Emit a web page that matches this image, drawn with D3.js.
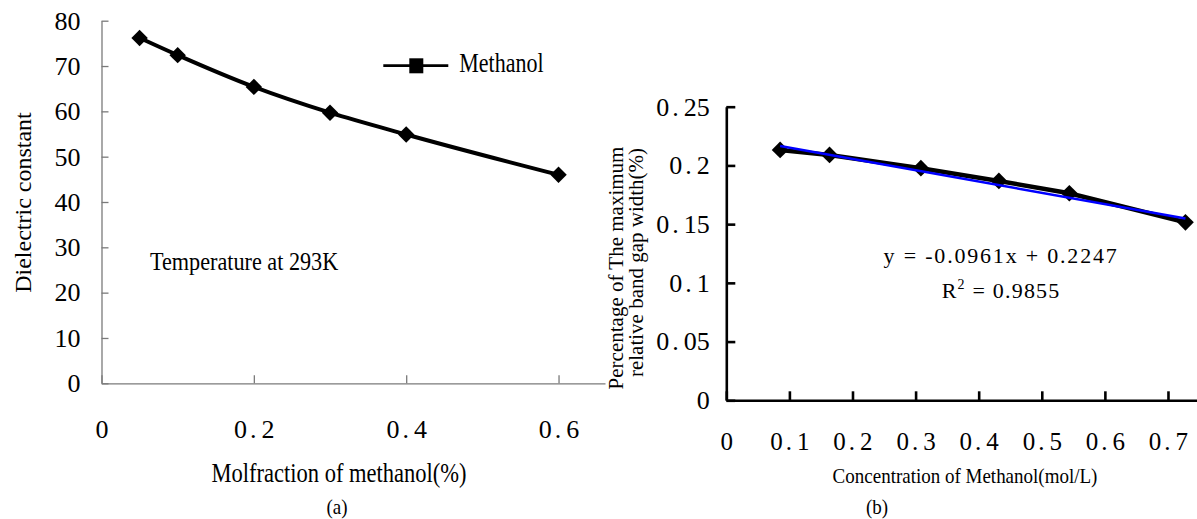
<!DOCTYPE html>
<html>
<head>
<meta charset="utf-8">
<script src="https://cdn.jsdelivr.net/npm/d3@7"></script>
<style>
  body { margin: 0; background: #fff; }
  svg text { font-family: "Liberation Serif", "Times New Roman", serif; fill: #000; }
</style>
</head>
<body>
<div id="chart"></div>
<script>
// (a) dielectric constant vs molfraction of methanol
var molFraction = [0.05, 0.1, 0.2, 0.3, 0.4, 0.6];
var dielectric = [76.2, 72.4, 65.4, 59.7, 54.9, 46.0];
var aXTicks = [0, 0.2, 0.4, 0.6];
var aYTicks = [0, 10, 20, 30, 40, 50, 60, 70, 80];

// (b) relative band gap width vs concentration
var concentration = [0.0853, 0.1636, 0.3084, 0.432, 0.5437, 0.7277];
var gapWidth = [0.2132, 0.2089, 0.1976, 0.1868, 0.1763, 0.1516];
var fitSlope = -0.0961, fitIntercept = 0.2247, fitR2 = 0.9855;
var bXTicks = [0, 0.1, 0.2, 0.3, 0.4, 0.5, 0.6, 0.7];
var bYTicks = [0, 0.05, 0.1, 0.15, 0.2, 0.25];

var width = 1197, height = 519;
var svg = d3.select('#chart').append('svg')
  .attr('width', width)
  .attr('height', height);

// text helper, the source picture is a bit stretched vertically
function addText(g, str, x, y, size, opts) {
  opts = opts || {};
  var tf = 'translate(' + x + ',' + y + ')';
  if (opts.rotate) tf += ' rotate(' + opts.rotate + ')';
  tf += ' scale(' + (opts.sx || 1) + ',' + (opts.sy || 1) + ')';
  var t = g.append('text')
    .attr('transform', tf)
    .attr('font-size', size)
    .attr('text-anchor', opts.anchor || 'start')
    .text(str);
  if (opts.ls) t.attr('letter-spacing', opts.ls);
  return t;
}

// tick labels written like "0. 2"
function spacedDecimal(sel) {
  sel.each(function(d) {
    var s = String(+d.toFixed(2));
    var t = d3.select(this).text(null);
    if (s.indexOf('.') < 0) { t.text(s); return; }
    var parts = s.split('.');
    t.append('tspan').text(parts[0]);
    t.append('tspan').attr('dx', 3).text('.');
    t.append('tspan').attr('dx', 5).text(parts[1]);
  });
}

function diamond(g, pts, x, y, size) {
  g.selectAll('path.mark')
    .data(pts)
    .enter()
    .append('path')
    .attr('class', 'mark')
    .attr('d', d3.symbol(d3.symbolSquare, size))
    .attr('transform', d => 'translate(' + x(d.x) + ',' + y(d.y) + ') rotate(45)')
    .attr('fill', '#000');
}

/* ---------- (a) ---------- */
var ga = svg.append('g');
var xa = d3.scaleLinear().domain([0, 0.661]).range([101.5, 605]);
var ya = d3.scaleLinear().domain([0, 80]).range([383.3, 20.7]);

var axA = ga.append('g')
  .attr('transform', 'translate(0,' + ya(0) + ')')
  .call(d3.axisBottom(xa).tickValues(aXTicks).tickSizeInner(-8).tickSizeOuter(0).tickPadding(36));
axA.selectAll('text').attr('font-size', 26).call(spacedDecimal);

var ayA = ga.append('g')
  .attr('transform', 'translate(' + xa(0) + ',0)')
  .call(d3.axisLeft(ya).tickValues(aYTicks).tickSizeInner(-7).tickSizeOuter(0).tickPadding(21));
ayA.selectAll('text').attr('font-size', 26);

ga.selectAll('.domain, .tick line').attr('stroke', '#7a7a7a').attr('stroke-width', 1.3);
ga.selectAll('.tick text').style('font-family', '"Liberation Serif", serif');

var ptsA = molFraction.map((m, i) => ({ x: m, y: dielectric[i] }));
ga.append('path')
  .datum(ptsA)
  .attr('fill', 'none')
  .attr('stroke', '#000')
  .attr('stroke-width', 4)
  .attr('d', d3.line().x(d => xa(d.x)).y(d => ya(d.y)).curve(d3.curveMonotoneX));
diamond(ga, ptsA, xa, ya, 135);

// legend
ga.append('line')
  .attr('x1', 383.3).attr('x2', 448.3)
  .attr('y1', 65.7).attr('y2', 65.7)
  .attr('stroke', '#000').attr('stroke-width', 2.7);
ga.append('rect')
  .attr('x', 409.3).attr('y', 58.3)
  .attr('width', 14).attr('height', 15)
  .attr('fill', '#000');
addText(ga, 'Methanol', 459.3, 72.3, 22, { sy: 1.2 });

addText(ga, 'Temperature at 293K', 150, 270, 22.2, { sy: 1.13 });
addText(ga, 'Dielectric constant', 31, 202.5, 24, { rotate: -90, anchor: 'middle' });
addText(ga, 'Molfraction of methanol(%)', 339, 481.7, 22.5, { anchor: 'middle', sy: 1.19 });
addText(ga, '(a)', 337, 514, 19, { anchor: 'middle', sy: 1.1 });

/* ---------- (b) ---------- */
var gb = svg.append('g');
var xb = d3.scaleLinear().domain([0, 0.746]).range([726.3, 1197]);
var yb = d3.scaleLinear().domain([0, 0.25]).range([400.3, 106.7]);

var axB = gb.append('g')
  .attr('transform', 'translate(0,' + yb(0) + ')')
  .call(d3.axisBottom(xb).tickValues(bXTicks).tickSizeInner(-9).tickSizeOuter(0).tickPadding(31.5));
axB.selectAll('text').attr('font-size', 25).call(spacedDecimal);

var ayB = gb.append('g')
  .attr('transform', 'translate(' + xb(0) + ',0)')
  .call(d3.axisLeft(yb).tickValues(bYTicks).tickSizeInner(-9).tickSizeOuter(0).tickPadding(16.5));
ayB.selectAll('text').attr('font-size', 26).call(spacedDecimal);

gb.selectAll('.domain, .tick line').attr('stroke', '#000').attr('stroke-width', 2.6);
gb.selectAll('.tick text').style('font-family', '"Liberation Serif", serif');

var ptsB = concentration.map((c, i) => ({ x: c, y: gapWidth[i] }));
gb.append('path')
  .datum(ptsB)
  .attr('fill', 'none')
  .attr('stroke', '#000')
  .attr('stroke-width', 4.5)
  .attr('d', d3.line().x(d => xb(d.x)).y(d => yb(d.y)));
diamond(gb, ptsB, xb, yb, 140);

// linear trend line
var fitEnds = d3.extent(concentration).map(c => ({ x: c, y: fitSlope * c + fitIntercept }));
gb.append('path')
  .datum(fitEnds)
  .attr('fill', 'none')
  .attr('stroke', '#0000ff')
  .attr('stroke-width', 2.5)
  .attr('d', d3.line().x(d => xb(d.x)).y(d => yb(d.y)));

addText(gb, 'y = ' + fitSlope + 'x + ' + fitIntercept, 883.6, 263.3, 22, { ls: 1.8 });
var r2 = addText(gb, 'R', 941.7, 298.3, 22, { ls: 1.2 });
r2.append('tspan').attr('font-size', 14).attr('dy', -9).text('2');
r2.append('tspan').attr('dy', 9).text(' = ' + fitR2);

addText(gb, 'Percentage of The maximum', 623.3, 268, 21, { rotate: -90, anchor: 'middle' });
addText(gb, 'relative band gap width(%)', 643.3, 262.5, 21, { rotate: -90, anchor: 'middle' });
addText(gb, 'Concentration of Methanol(mol/L)', 965, 482.7, 19, { anchor: 'middle', sy: 1.15 });
addText(gb, '(b)', 877, 514, 19, { anchor: 'middle', sy: 1.1 });
</script>
</body>
</html>
